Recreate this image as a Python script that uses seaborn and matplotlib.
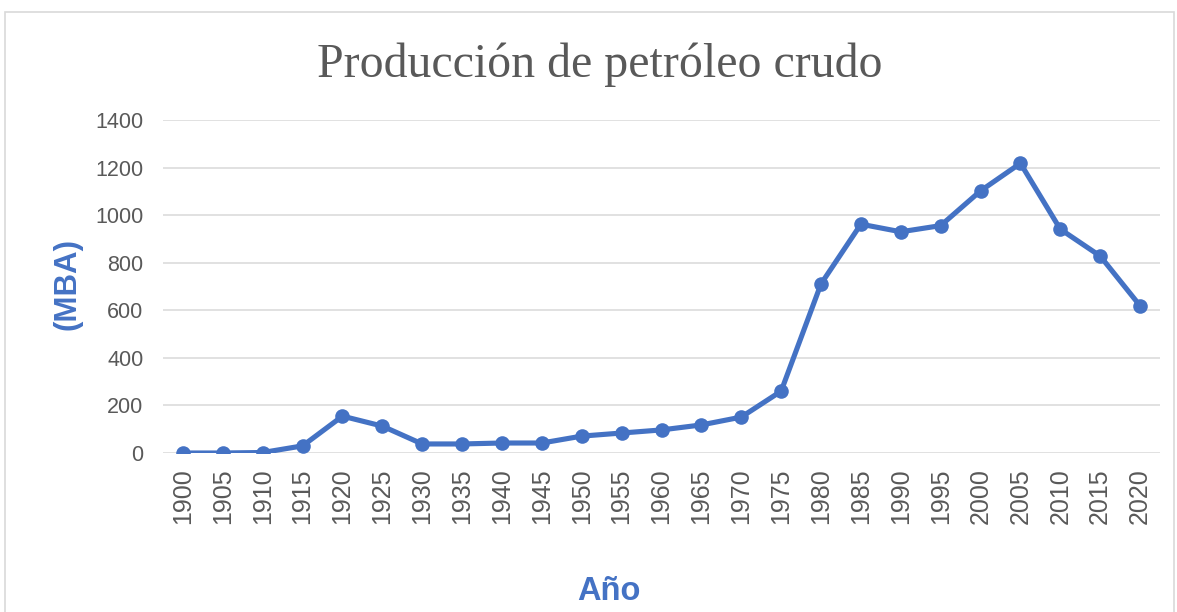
import matplotlib
matplotlib.use("Agg")
import matplotlib.pyplot as plt
import seaborn as sns
import pandas as pd
from matplotlib.patches import Rectangle

years = [str(y) for y in range(1900, 2021, 5)]
production = [0, 0, 2, 30, 155, 113, 38, 38, 42, 42, 71, 84, 97, 118, 151, 260,
              711, 962, 930, 956, 1102, 1218, 941, 828, 619]
y_ticks = [0, 200, 400, 600, 800, 1000, 1200, 1400]

title = "Producción de petróleo crudo"
x_label = "Año"
y_label = "(MBA)"

blue = "#4472C4"
grey_text = "#595959"
grid_col = "#D9D9D9"

sns.set_theme(style="white")
plt.rcParams['font.family'] = ['Liberation Sans', 'DejaVu Sans']

W, H = 1177, 612
fig = plt.figure(figsize=(W / 100, H / 100), dpi=100)
ax = fig.add_axes([163 / W, 1 - 453 / H, (1160 - 163) / W, (453 - 120) / H])

df = pd.DataFrame({"Año": years, "MBA": production})
sns.lineplot(data=df, x="Año", y="MBA", ax=ax, color=blue, linewidth=3.7,
             marker="o", markersize=10.5, markeredgewidth=0, sort=False)

ax.set_xlim(-0.5, len(years) - 0.5)
ax.set_ylim(0, 1400)
ax.set_yticks(y_ticks)
ax.set_yticklabels([str(v) for v in y_ticks])
ax.grid(axis="y", color=grid_col, linewidth=1.1)
ax.grid(axis="x", visible=False)
ax.set_axisbelow(True)
for s in ax.spines.values():
    s.set_visible(False)
ax.tick_params(axis="both", length=0, colors=grey_text)
ax.tick_params(axis="y", pad=14, labelsize=15.5)
ax.tick_params(axis="x", pad=11, labelsize=18)
plt.setp(ax.get_xticklabels(), rotation=90)
ax.set_xlabel("")
ax.set_ylabel("")

fig.text(600 / W, 1 - 65 / H, title, ha="center", va="center",
         fontsize=34.5, color=grey_text, family=["Liberation Serif", "DejaVu Serif"])
fig.text(67 / W, 1 - 284 / H, y_label, ha="center", va="center", rotation=90,
         fontsize=22.5, fontweight="bold", color=blue)
fig.text(609 / W, 1 - 592 / H, x_label, ha="center", va="center",
         fontsize=23.5, fontweight="bold", color=blue)

fig.patches.append(Rectangle((5 / W, -0.05), (1174 - 5) / W, 1 - 12 / H + 0.05,
                             transform=fig.transFigure, fill=False,
                             edgecolor="#D9D9D9", linewidth=1.2))

fig.savefig("out.png", dpi=100)
